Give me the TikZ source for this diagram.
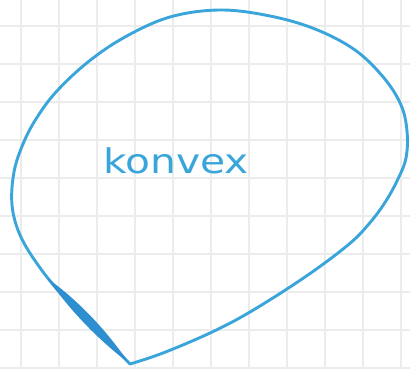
\documentclass[tikz,border=0pt]{standalone}
\usepackage{fontspec}
\newfontfamily\handfont{DejaVu Sans}
\definecolor{penblue}{HTML}{3AA5DA}
\definecolor{pendark}{HTML}{2E8FD0}
\definecolor{gridgray}{HTML}{ECECEC}
\tikzset{
  gridline/.style={draw=gridgray, line width=1.2pt},
  penline/.style={draw=penblue, line width=2.9pt, line cap=round, line join=round},
}
\begin{document}
\begin{tikzpicture}[x=1pt,y=-1pt]
\useasboundingbox (0,0) rectangle (410,369);
\fill[white] (0,0) rectangle (410,369);
% grid
\foreach \gx in {21,59,97,135,173,211,249,287,325,363,401}
  \draw[gridline] (\gx,0) -- (\gx,369);
\foreach \gy in {26,64,102,140,178,216,254,292,330,368}
  \draw[gridline] (0,\gy) -- (410,\gy);
% convex shape
\draw[penline] plot[smooth, tension=0.6] coordinates {
  (130,364) (97,330) (63,296) (38,265) (20,235) (12,205) (14,172) (23,144)
  (36,119) (56,92) (88,62) (125,37) (170,17) (220,10) (270,16) (315,29)
  (355,50) (384,78) (401,105) (407,131) (406,158) (397,181) (384,204)
  (368,225) (348,245) (305,277) (250,312) (210,333) (163,353)
  (130,364)};
% thicker stroke near the bottom corner
\fill[pendark] (47,278) .. controls (79.5,301.5) and (105.5,329.5) .. (129,363)
  .. controls (96.5,338.5) and (70.5,310.5) .. (47,278) -- cycle;
% label
\node[text=penblue, font=\handfont\fontsize{34}{34}\selectfont, anchor=base]
  (label) at (176,173) {\scalebox{1.2}[1]{konvex}};
\end{tikzpicture}
\end{document}
